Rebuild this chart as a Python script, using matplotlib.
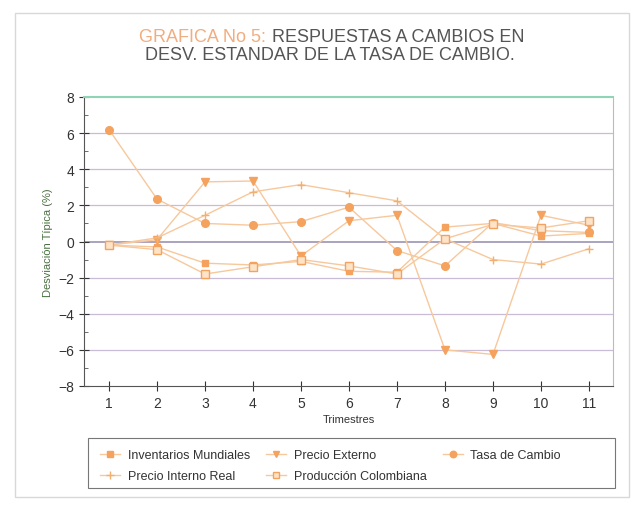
import numpy as np
import matplotlib
matplotlib.use('Agg')
import matplotlib.pyplot as plt
from matplotlib.patches import Rectangle

plt.rcParams['font.family'] = ['Liberation Sans', 'DejaVu Sans']

# trimestres
trimestres = np.arange(1, 12)

# respuestas (desviacion tipica %)
inventarios = [-0.2, -0.3, -1.2, -1.3, -1.1, -1.65, -1.7, 0.8, 1.0, 0.3, 0.45]
precio_ext = [-0.2, 0.1, 3.3, 3.35, -0.8, 1.15, 1.45, -6.0, -6.25, 1.45, 0.9]
tasa = [6.2, 2.35, 1.0, 0.9, 1.1, 1.9, -0.5, -1.35, 1.05, 0.6, 0.5]
precio_int = [-0.2, 0.2, 1.45, 2.75, 3.15, 2.7, 2.25, 0.15, -1.0, -1.25, -0.4]
produccion = [-0.2, -0.45, -1.8, -1.4, -1.0, -1.35, -1.8, 0.15, 0.95, 0.75, 1.15]

yticks = [-8, -6, -4, -2, 0, 2, 4, 6, 8]

linea = '#f7c89c'
naranja = '#f4a25e'

W, H = 639, 506
fig = plt.figure(figsize=(W / 100, H / 100), dpi=100)
ax = fig.add_axes([84 / W, 1 - 387 / H, (613 - 84) / W, (387 - 98) / H])

# marco exterior
fig.patches.append(Rectangle((15 / W, 8 / H), 614 / W, 484 / H, transform=fig.transFigure,
                             fill=False, edgecolor='#d8d8d8', lw=1))
# marco de la leyenda
fig.patches.append(Rectangle((88 / W, 1 - 489 / H), 527 / W, 50 / H, transform=fig.transFigure,
                             fill=False, edgecolor='#777777', lw=0.8))

for y in yticks[1:-1]:
    c = '#9c94b4' if y == 0 else '#c9bcd6'
    ax.axhline(y, color=c, lw=1.2 if y == 0 else 0.9, zorder=1)

h1, = ax.plot(trimestres, inventarios, color=linea, lw=1, marker='s', ms=5,
              mfc=naranja, mec=naranja, zorder=3)
h2, = ax.plot(trimestres, precio_ext, color=linea, lw=1, marker='v', ms=5.5,
              mfc=naranja, mec=naranja, zorder=3)
h3, = ax.plot(trimestres, tasa, color=linea, lw=1, marker='o', ms=5.5,
              mfc=naranja, mec=naranja, zorder=3)
h4, = ax.plot(trimestres, precio_int, color=linea, lw=1, marker='+', ms=6,
              mec='#f2b070', mew=1, zorder=3)
h5, = ax.plot(trimestres, produccion, color=linea, lw=1, marker='s', ms=5.5,
              mfc='#fde3c8', mec=naranja, mew=1, zorder=3)

ax.set_xlim(0.48, 11.5)
ax.set_ylim(-8, 8)
ax.set_xticks(trimestres)
ax.set_yticks(yticks)
ax.set_yticks(np.arange(-7, 8, 2), minor=True)
ax.tick_params(axis='both', labelsize=10, colors='#333333', direction='inout', length=7)
ax.tick_params(axis='y', which='minor', direction='in', length=3, colors='#555555')

ax.spines['left'].set_color('#555555')
ax.spines['bottom'].set_color('#555555')
ax.spines['right'].set_color('#bbbbbb')
ax.spines['top'].set_color('#8fd4b4')
ax.spines['top'].set_linewidth(1.5)

ax.set_ylabel('Desviación Típica (%)', fontsize=8, color='#4a7040', labelpad=4)
ax.set_xlabel('Trimestres', fontsize=8, color='#333333', labelpad=3)

fig.text(266 / W, 1 - 37 / H, 'GRAFICA No 5:', fontsize=13, color='#f2ad7e',
         ha='right', va='center')
fig.text(272 / W, 1 - 37 / H, 'RESPUESTAS A CAMBIOS EN', fontsize=13, color='#555555',
         ha='left', va='center')
fig.text(330 / W, 1 - 56 / H, 'DESV. ESTANDAR DE LA TASA DE CAMBIO.', fontsize=13,
         color='#555555', ha='center', va='center')

leg = fig.legend([h1, h4, h2, h5, h3],
                 ['Inventarios Mundiales', 'Precio Interno Real', 'Precio Externo',
                  'Producción Colombiana', 'Tasa de Cambio'],
                 ncol=3, loc='upper left', bbox_to_anchor=(90 / W, 1 - 440 / H),
                 fontsize=9, frameon=False,
                 handlelength=1.6, handletextpad=0.6, labelspacing=0.75,
                 columnspacing=1.3, borderpad=0.3, markerscale=0.85)
for t in leg.get_texts():
    t.set_color('#333333')

fig.savefig('out.png', dpi=100)
